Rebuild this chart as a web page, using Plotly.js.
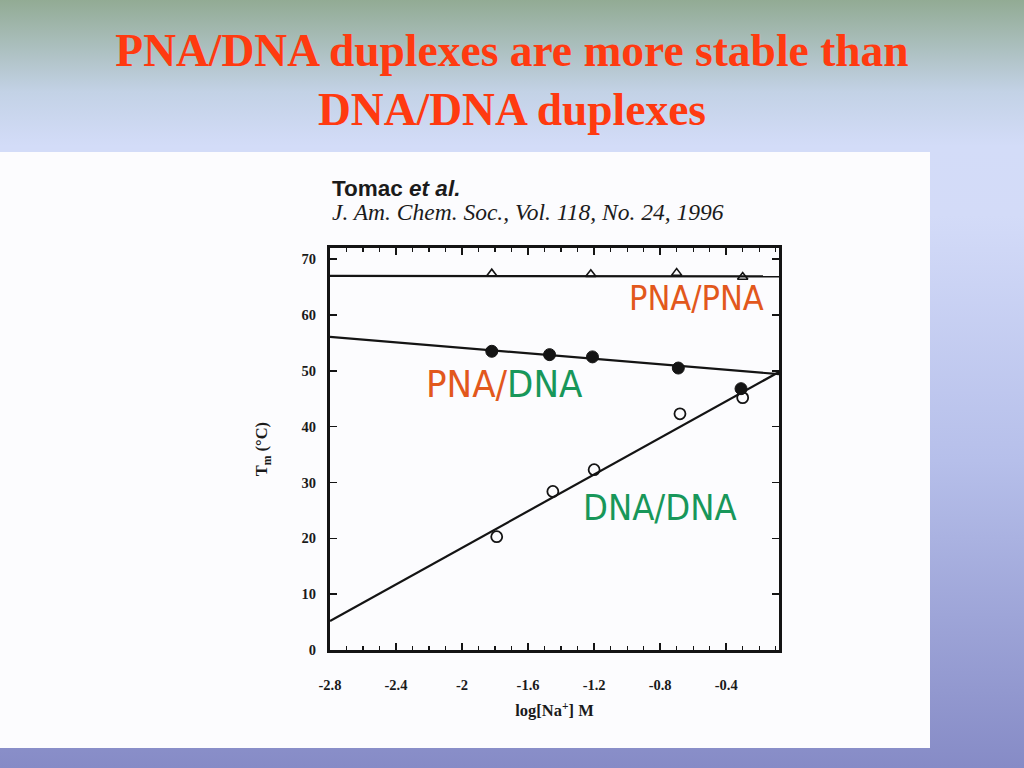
<!DOCTYPE html>
<html>
<head>
<meta charset="utf-8">
<script src="https://cdn.plot.ly/plotly-3.0.1.min.js"></script>
<style>
  html, body { margin: 0; padding: 0; width: 1024px; height: 768px; overflow: hidden; }
  body { background: linear-gradient(to bottom, #92ab94 0%, #c3d2e6 12%, #d3dcf8 19%, #d3dbf8 28%, #b6bfea 60%, #868bc6 100%); }
  #paper { position: absolute; left: 0; top: 152px; width: 930px; height: 596px; background: #fcfcfe; }
  #chart { position: absolute; left: 0; top: 0; width: 1024px; height: 768px; }
</style>
</head>
<body>
<div id="paper"></div>
<div id="chart"></div>
<script>
// ---- data ----
const pnaPnaX = [-1.82, -1.22, -0.70, -0.30];
const pnaPnaY = [67.4, 67.3, 67.5, 66.8];

const pnaDnaX = [-1.82, -1.47, -1.21, -0.69, -0.31];
const pnaDnaY = [53.5, 52.9, 52.5, 50.5, 46.8];

const dnaDnaX = [-1.79, -1.45, -1.20, -0.68, -0.30];
const dnaDnaY = [20.3, 28.4, 32.3, 42.3, 45.2];

// fitted lines (end points across the plotted range)
const fitX = [-2.8, -0.08];
const fitPnaPnaY = [67.0, 66.9];
const fitPnaDnaY = [56.1, 49.4];
const fitDnaDnaY = [5.2, 49.8];

const xTickVals = [-2.8, -2.4, -2.0, -1.6, -1.2, -0.8, -0.4];
const xTickText = ['-2.8', '-2.4', '-2', '-1.6', '-1.2', '-0.8', '-0.4'];
const yTickVals = [0, 10, 20, 30, 40, 50, 60, 70];

const slideTitle = 'PNA/DNA duplexes are more stable than<br>DNA/DNA duplexes';
const citeAuthor = '<b>Tomac <i>et al.</i></b>';
const citeJournal = '<i>J. Am. Chem. Soc., Vol. 118, No. 24, 1996</i>';
const xTitle = 'log[Na<sup>+</sup>] M';
const yTitle = 'T<sub>m</sub> (°C)';

const ORANGE = '#e2581c';
const GREEN = '#18975a';
const INK = '#141414';

const traces = [
  { x: fitX, y: fitPnaPnaY, mode: 'lines', line: { color: INK, width: 2.2 }, showlegend: false, hoverinfo: 'skip' },
  { x: fitX, y: fitPnaDnaY, mode: 'lines', line: { color: INK, width: 2.2 }, showlegend: false, hoverinfo: 'skip' },
  { x: fitX, y: fitDnaDnaY, mode: 'lines', line: { color: INK, width: 2.2 }, showlegend: false, hoverinfo: 'skip' },
  { x: pnaPnaX, y: pnaPnaY, mode: 'markers', name: 'PNA/PNA',
    marker: { symbol: 'triangle-up-open', size: 9, color: INK, line: { width: 1.6, color: INK } }, showlegend: false },
  { x: pnaDnaX, y: pnaDnaY, mode: 'markers', name: 'PNA/DNA',
    marker: { symbol: 'circle', size: 12, color: INK, line: { width: 1, color: INK } }, showlegend: false },
  { x: dnaDnaX, y: dnaDnaY, mode: 'markers', name: 'DNA/DNA',
    marker: { symbol: 'circle-open', size: 11, color: INK, line: { width: 1.8, color: INK } }, showlegend: false }
];

const tickFont = { family: 'Liberation Serif, Times New Roman, serif', size: 14.5, color: '#1a1a1a', weight: 'bold' };
const axTitleFont = { family: 'Liberation Serif, Times New Roman, serif', size: 16.5, color: '#1a1a1a', weight: 'bold' };
const handFont = (c, s) => ({ family: 'DejaVu Sans Condensed, Liberation Sans Narrow, DejaVu Sans, sans-serif', size: s, color: c });

const layout = {
  width: 1024, height: 768,
  paper_bgcolor: 'rgba(0,0,0,0)',
  plot_bgcolor: 'rgba(0,0,0,0)',
  margin: { l: 330, r: 245, t: 248, b: 118 },
  showlegend: false,
  title: {
    text: slideTitle,
    font: { family: 'Liberation Serif, Times New Roman, serif', size: 45.5, color: '#ff3a10', weight: 'bold' },
    x: 0.5, xanchor: 'center', xref: 'container',
    y: 1 - 66 / 768, yanchor: 'middle', yref: 'container'
  },
  xaxis: {
    range: [-2.8, -0.08],
    tickmode: 'array', tickvals: xTickVals, ticktext: xTickText,
    ticks: 'inside', ticklen: 7, tickwidth: 1.5, tickcolor: INK,
    minor: { tickmode: 'linear', tick0: -2.8, dtick: 0.1, ticks: 'inside', ticklen: 4, tickwidth: 1.2, tickcolor: INK },
    showline: true, linewidth: 3, linecolor: INK, mirror: 'allticks',
    showgrid: false, zeroline: false,
    tickfont: tickFont, ticklabelstandoff: 20,
    title: { text: xTitle, font: axTitleFont, standoff: 13 }
  },
  yaxis: {
    range: [0, 72],
    tickmode: 'array', tickvals: yTickVals,
    ticks: 'inside', ticklen: 7, tickwidth: 1.5, tickcolor: INK,
    showline: true, linewidth: 3, linecolor: INK, mirror: 'allticks',
    showgrid: false, zeroline: false,
    tickfont: tickFont, ticklabelstandoff: 8,
    title: { text: yTitle, font: axTitleFont, standoff: 30 }
  },
  annotations: [
    { xref: 'paper', yref: 'paper', x: 0, y: 1 + (248 - 188) / 402, xanchor: 'left', yanchor: 'middle', showarrow: false,
      text: citeAuthor, font: { family: 'Liberation Sans, Arial, sans-serif', size: 22.5, color: '#1b1b1b' } },
    { xref: 'paper', yref: 'paper', x: 0, y: 1 + (248 - 212) / 402, xanchor: 'left', yanchor: 'middle', showarrow: false,
      text: citeJournal, font: { family: 'Liberation Serif, Times New Roman, serif', size: 23.5, color: '#1b1b1b' } },
    { x: -0.58, y: 63.0, xref: 'x', yref: 'y', showarrow: false, text: 'PNA/PNA', font: handFont(ORANGE, 34) },
    { x: -1.74, y: 47.6, xref: 'x', yref: 'y', showarrow: false,
      text: '<span style="color:' + ORANGE + '">PNA/</span><span style="color:' + GREEN + '">DNA</span>',
      font: handFont(GREEN, 38) },
    { x: -0.80, y: 25.6, xref: 'x', yref: 'y', showarrow: false, text: 'DNA/DNA', font: handFont(GREEN, 36) }
  ]
};

Plotly.newPlot('chart', traces, layout, { displayModeBar: false, staticPlot: true });
</script>
</body>
</html>
